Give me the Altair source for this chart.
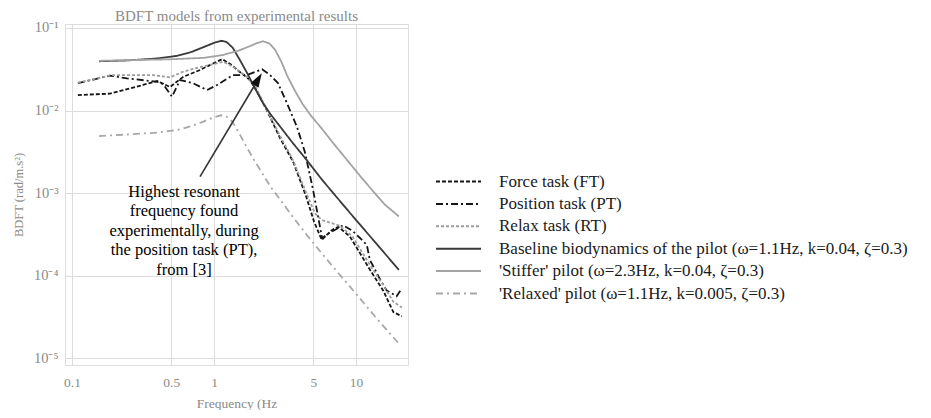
import altair as alt
import pandas as pd

# ---------------- data ----------------
series_names = [
    "Force task (FT)",
    "Position task (PT)",
    "Relax task (RT)",
    "Baseline biodynamics of the pilot (\u03c9=1.1Hz, k=0.04, \u03b6=0.3)",
    "'Stiffer' pilot (\u03c9=2.3Hz, k=0.04, \u03b6=0.3)",
    "'Relaxed' pilot (\u03c9=1.1Hz, k=0.005, \u03b6=0.3)",
]

ft_freq = [0.110, 0.185, 0.316, 0.397, 0.49, 0.605, 0.797, 1.0, 1.14, 1.30, 1.52, 1.79,
           1.98, 2.35, 2.92, 3.6, 4.44, 5.06, 5.73, 6.74, 7.5, 9.06, 12.5, 15.5, 18.3, 21.0]
ft_val = [0.0154, 0.0160, 0.0204, 0.0228, 0.0193, 0.0255, 0.031, 0.0376, 0.042, 0.0366,
          0.0293, 0.0234, 0.0177, 0.0101, 0.0046, 0.0024, 0.00092, 0.00045, 0.00027,
          0.000355, 0.00039, 0.000296, 0.000118, 0.000066, 0.000036, 0.000032]

pt_freq = [0.110, 0.185, 0.244, 0.397, 0.437, 0.506, 0.576, 0.711, 0.893, 1.05, 1.36, 1.71,
           2.18, 2.48, 2.82, 3.26, 3.84, 4.37, 4.98, 5.4, 5.76, 6.55, 8.1, 9.4, 10.65, 11.9,
           12.5, 14.8, 16.4, 19.3, 21.0]
pt_val = [0.0214, 0.0265, 0.0245, 0.0223, 0.0210, 0.0147, 0.0234, 0.0214, 0.0177, 0.0204,
          0.0269, 0.0269, 0.0316, 0.0269, 0.0215, 0.0123, 0.0063, 0.0031, 0.00109, 0.00052,
          0.000285, 0.00033, 0.000407, 0.00035, 0.000285, 0.000235, 0.000155, 0.000089,
          0.000066, 0.000056, 0.000070]

rt_freq = [0.110, 0.19, 0.372, 0.49, 0.605, 0.797, 1.0, 1.16, 1.36, 1.70, 1.98, 2.36, 2.92,
           3.6, 4.44, 5.15, 5.76, 7.7, 9.4, 12.5, 15.5, 18.3, 21.0]
rt_val = [0.0217, 0.0269, 0.0269, 0.0252, 0.0295, 0.0336, 0.0366, 0.039, 0.034, 0.0257,
          0.0187, 0.0101, 0.0049, 0.0025, 0.00102, 0.00056, 0.00047, 0.00040, 0.00030,
          0.000135, 0.000077, 0.000048, 0.000041]

base_freq = [0.155, 0.25, 0.4, 0.55, 0.7, 0.85, 1.0, 1.12, 1.22, 1.35, 1.52, 1.7, 1.9, 2.2,
             2.5, 3.0, 3.6, 4.5, 5.7, 7.3, 10.0, 14.0, 20.0]
base_val = [0.0395, 0.0405, 0.0428, 0.0460, 0.0515, 0.0590, 0.0660, 0.0700, 0.0680, 0.0580,
            0.0410, 0.0290, 0.0200, 0.0125, 0.0090, 0.0060, 0.0040, 0.0025, 0.00148,
            0.00089, 0.00047, 0.00024, 0.000117]

stiff_freq = [0.155, 0.5, 0.85, 1.15, 1.46, 1.78, 2.0, 2.21, 2.45, 2.7, 3.0, 3.27, 3.7,
              4.2, 4.8, 5.58, 7.0, 8.5, 10.7, 13.0, 16.0, 20.0]
stiff_val = [0.0400, 0.0418, 0.0435, 0.0470, 0.0525, 0.0600, 0.0655, 0.0690, 0.0650,
             0.0540, 0.0380, 0.0265, 0.0175, 0.0120, 0.0087, 0.0064, 0.0039, 0.0026,
             0.00160, 0.00108, 0.00072, 0.00052]

relax_freq = [0.155, 0.25, 0.4, 0.55, 0.7, 0.85, 1.0, 1.12, 1.22, 1.35, 1.52, 1.7, 1.9, 2.2,
              2.5, 3.0, 3.6, 4.5, 5.7, 7.3, 10.0, 14.0, 20.0]
relax_val = [0.0049, 0.00513, 0.0054, 0.0058, 0.0065, 0.0074, 0.0083, 0.00875, 0.0085,
             0.00725, 0.0051, 0.0036, 0.00256, 0.0017, 0.00119, 0.00078, 0.00051, 0.00031,
             0.000188, 0.000113, 0.000060, 0.000030, 0.0000150]

x_ticks = [0.1, 0.5, 1, 5, 10]
y_ticks = [1e-5, 1e-4, 1e-3, 1e-2, 1e-1]

annotation_text = "Highest resonant\nfrequency found\nexperimentally, during\nthe position task (PT),\nfrom [3]"

# ---------------- styles ----------------
series_colors = ["#151515", "#151515", "#9c9c9c", "#3a3a3a", "#a3a3a3", "#a8a8a8"]
series_dashes = [[4, 2], [7, 3, 2, 3], [3, 2], [1, 0], [1, 0], [7, 4, 2, 4]]
SERIF = "Liberation Serif"
GRAY = "#8a8a8a"

rows = []
for name, fs, vs in zip(series_names,
                        [ft_freq, pt_freq, rt_freq, base_freq, stiff_freq, relax_freq],
                        [ft_val, pt_val, rt_val, base_val, stiff_val, relax_val]):
    for i, (f, v) in enumerate(zip(fs, vs)):
        rows.append({"series": name, "f": f, "v": v, "order": i})
df = pd.DataFrame(rows)

xscale = alt.Scale(type="log", domain=[0.0893, 23.2], nice=False)
yscale = alt.Scale(type="log", domain=[8.23e-6, 0.1118], nice=False)

x_axis = alt.Axis(values=x_ticks, grid=True, gridColor="#dcdcdc", ticks=False, domain=False,
                  labelFont=SERIF, labelFontSize=13.5, labelColor=GRAY, labelPadding=10,
                  labelExpr="datum.value >= 1 ? format(datum.value, 'd') : format(datum.value, '.1f')",
                  title="Frequency (Hz", titleFont=SERIF, titleFontSize=13.5, titleColor=GRAY,
                  titleFontWeight="normal", titlePadding=8)
y_axis = alt.Axis(values=y_ticks, grid=True, gridColor="#dcdcdc", ticks=False, domain=False,
                  labelFont=SERIF, labelFontSize=14.5, labelColor=GRAY, labelPadding=7,
                  labelExpr="'10' + (datum.value > 0.05 ? '\u207b\u00b9' : datum.value > 0.005 ? '\u207b\u00b2' : datum.value > 0.0005 ? '\u207b\u00b3' : datum.value > 0.00005 ? '\u207b\u2074' : '\u207b\u2075')",
                  title="BDFT (rad/m.s\u00b2)", titleFont=SERIF, titleFontSize=12.5, titleColor=GRAY,
                  titleFontWeight="normal", titlePadding=8)

legend = alt.Legend(title=None, orient="none", legendX=385, legendY=149, padding=0,
                    symbolType="M-3,0H3", symbolSize=225, symbolStrokeWidth=2,
                    labelFont=SERIF, labelFontSize=17, labelColor="#1a1a1a", labelOffset=32,
                    labelLimit=1000, rowPadding=4.4)

lines = alt.Chart(df).mark_line(strokeWidth=1.8, clip=True).encode(
    x=alt.X("f:Q", scale=xscale, axis=x_axis),
    y=alt.Y("v:Q", scale=yscale, axis=y_axis),
    color=alt.Color("series:N", scale=alt.Scale(domain=series_names, range=series_colors), legend=legend),
    strokeDash=alt.StrokeDash("series:N", scale=alt.Scale(domain=series_names, range=series_dashes), legend=legend),
    detail="series:N",
    order="order:Q",
)

# annotation: text + arrow (data coordinates)
ann_df = pd.DataFrame([{"f": 0.615, "v": 1.03e-3, "t": annotation_text}])
ann = alt.Chart(ann_df).mark_text(font=SERIF, fontSize=16.5, color="#000000", align="center",
                                  baseline="middle", lineBreak="\n", lineHeight=19.5).encode(
    x=alt.X("f:Q", scale=xscale), y=alt.Y("v:Q", scale=yscale), text="t:N")

arrow_df = pd.DataFrame([{"f": 0.797, "v": 1.58e-3, "f2": 1.928, "v2": 0.0201}])
arrow_line = alt.Chart(arrow_df).mark_rule(color="#333333", strokeWidth=1.6).encode(
    x=alt.X("f:Q", scale=xscale), y=alt.Y("v:Q", scale=yscale), x2="f2:Q", y2="v2:Q")

head_df = pd.DataFrame([{"f": 2.045, "v": 0.0239}])
arrow_head = alt.Chart(head_df).mark_point(shape="M0,-1L0.65,1L-0.65,1Z", size=196, angle=31,
                                           filled=True, color="#111111", opacity=1).encode(
    x=alt.X("f:Q", scale=xscale), y=alt.Y("v:Q", scale=yscale))

chart = alt.layer(lines, arrow_line, arrow_head, ann).properties(
    width=343, height=341,
    title=alt.TitleParams("BDFT models from experimental results", font=SERIF, fontSize=15,
                          color=GRAY, fontWeight="normal", anchor="middle", offset=-4),
    autosize=alt.AutoSizeParams(type="none"),
    padding={"left": 57, "top": 16, "right": 515, "bottom": 45},
).configure_view(stroke="#8a8a8a", strokeWidth=1.5).configure(background="white")

chart.save("out.html", embed_options={"renderer": "svg", "actions": False})
